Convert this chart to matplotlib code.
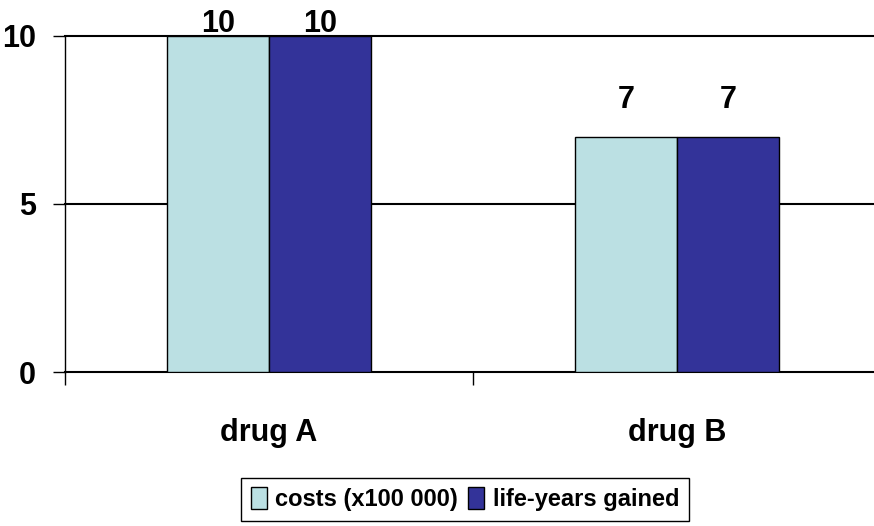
import matplotlib.pyplot as plt
import numpy as np

plt.rcParams['font.family'] = ['Liberation Sans', 'DejaVu Sans']
plt.rcParams['font.weight'] = 'bold'

# data
drugs = ['drug A', 'drug B']
series_names = ['costs (x100 000)', 'life-years gained']
costs = [10, 7]
life_years = [10, 7]
colors = ['#BBE0E3', '#333399']

fig = plt.figure(figsize=(8.74, 5.26), dpi=100)
ax = fig.add_axes([65 / 874, 154 / 526, 816 / 874, 336 / 526])

x = np.arange(len(drugs))
w = 0.25
for i, (vals, name) in enumerate(zip([costs, life_years], series_names)):
    pos = x + (i - 0.5) * w
    ax.bar(pos, vals, width=w, color=colors[i], edgecolor='black',
           linewidth=1, label=name, zorder=3)
    for p, v in zip(pos, vals):
        ax.text(p, min(v + 1.1, 10.35), str(v), ha='center', va='center',
                fontsize=22, fontweight='bold', clip_on=False, zorder=5)

ax.set_xlim(-0.5, 1.5)
ax.set_ylim(0, 10)
ax.set_yticks([0, 5, 10])
# gridlines (unclipped so the top one is fully drawn)
for gy in [5, 10]:
    ax.axhline(gy, color='black', linewidth=1.5, zorder=1, clip_on=False)

# category labels centred under groups, ticks at boundaries
ax.set_xticks(x)
ax.set_xticklabels(drugs, fontsize=22, fontweight='bold')
ax.tick_params(axis='x', which='major', length=0, pad=33)
ax.set_xticks([-0.5, 0.5, 1.5], minor=True)
ax.tick_params(axis='x', which='minor', length=9, width=1, color='black')
ax.tick_params(axis='y', length=9, width=1, pad=12, labelsize=22)
for lab in ax.get_yticklabels():
    lab.set_fontweight('bold')

for s in ['top', 'right']:
    ax.spines[s].set_visible(False)
ax.spines['left'].set_linewidth(1)
ax.spines['bottom'].set_linewidth(1.5)

leg = fig.legend(loc='upper center', bbox_to_anchor=(465 / 874, 48 / 526),
                 ncol=2, fontsize=17, frameon=True, fancybox=False,
                 edgecolor='black', framealpha=1, handlelength=0.68,
                 handleheight=1.0, handletextpad=0.35, columnspacing=0.45,
                 borderpad=0.4, borderaxespad=0)
leg.get_frame().set_linewidth(1)
for t in leg.get_texts():
    t.set_fontweight('bold')

fig.savefig('out.png', dpi=100)
